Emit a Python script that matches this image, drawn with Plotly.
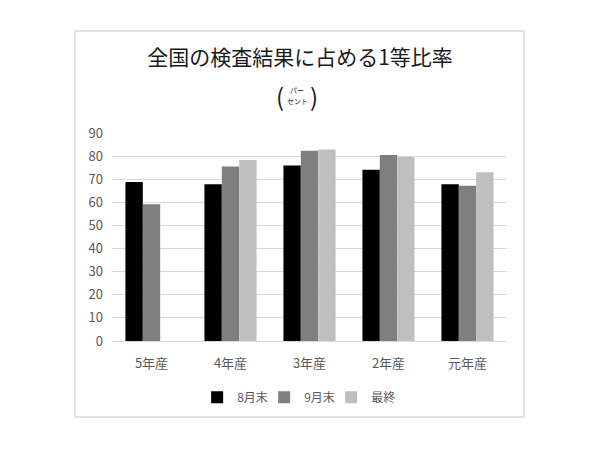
import plotly.graph_objects as go

# 産年ごとの1等比率（パーセント）
categories = ["5年産", "4年産", "3年産", "2年産", "元年産"]
series_names = ["8月末", "9月末", "最終"]
aug_end = [68.8, 67.8, 75.9, 74.1, 67.8]
sep_end = [59.2, 75.5, 82.3, 80.5, 67.2]
final = [None, 78.3, 82.9, 79.6, 73.0]
y_ticks = [0, 10, 20, 30, 40, 50, 60, 70, 80, 90]

colors = ["#000000", "#7f7f7f", "#bfbfbf"]
font_jp = "Noto Sans CJK JP"

fig = go.Figure()
for name, vals, col in zip(series_names, [aug_end, sep_end, final], colors):
    fig.add_trace(go.Bar(
        x=categories, y=vals, name=name,
        marker=dict(color=col, line=dict(width=0)),
    ))

# the page puts the figure 8px in from the corner, so margins are shifted back
fig.update_layout(
    width=600, height=450,
    paper_bgcolor="white", plot_bgcolor="white",
    font=dict(family=font_jp, color="#595959", size=12),
    barmode="group", bargap=0.34, bargroupgap=0,
    margin=dict(l=104, r=101, t=125, b=117),
    title=dict(
        text="全国の検査結果に占める1等比率",
        font=dict(family=font_jp, size=21, color="#1a1a1a"),
        x=(300 - 8) / 600, xref="container", xanchor="center",
        y=1 - 50 / 450, yref="container", yanchor="middle",
    ),
    showlegend=True,
    legend=dict(
        orientation="h", x=0.47, xanchor="center", y=-0.27, yanchor="middle",
        font=dict(size=12, color="#595959"),
        itemwidth=30, entrywidth=22, traceorder="normal",
    ),
)

fig.update_yaxes(
    range=[0, 90], tickvals=y_ticks, gridcolor="#d9d9d9", gridwidth=1,
    zeroline=False, showline=False, ticks="", tickfont=dict(size=13),
    ticklabelstandoff=8,
)
fig.update_xaxes(
    showline=True, linecolor="#d9d9d9", ticks="", tickfont=dict(size=13),
    ticklabelstandoff=10,
)

# 副題（パーセント）: 括弧の中に小さな二行書き
sub_y = (341 - 96) / 208
fig.add_annotation(text="(", xref="paper", yref="paper", x=(280 - 112) / 395, y=sub_y + 20 / 208,
                   showarrow=False, font=dict(size=24, color="#1a1a1a"))
fig.add_annotation(text=")", xref="paper", yref="paper", x=(314 - 112) / 395, y=sub_y + 20 / 208,
                   showarrow=False, font=dict(size=24, color="#1a1a1a"))
fig.add_annotation(text="パー", xref="paper", yref="paper", x=(297 - 112) / 395, y=(341 - 83) / 208,
                   showarrow=False, font=dict(size=7, color="#1a1a1a"))
fig.add_annotation(text="セント", xref="paper", yref="paper", x=(297 - 112) / 395, y=(341 - 94) / 208,
                   showarrow=False, font=dict(size=7, color="#1a1a1a"))

# グラフ外枠
fig.add_shape(type="rect", xref="paper", yref="paper",
              x0=(75 - 112) / 395, x1=(524 - 112) / 395,
              y0=(341 - 417) / 208, y1=(341 - 31) / 208,
              line=dict(color="#d9d9d9", width=1.5), fillcolor="rgba(0,0,0,0)", layer="below")

fig.write_html("out.html")
